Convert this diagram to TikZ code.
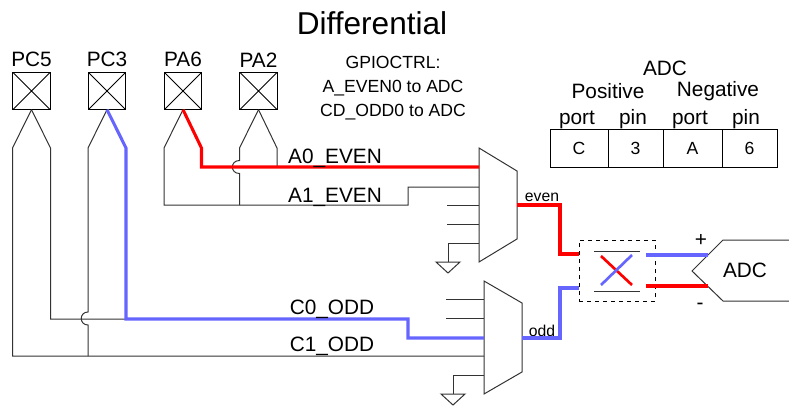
\documentclass[tikz,border=0pt]{standalone}
\usepackage{fontspec}
\setmainfont{Liberation Sans}
\usepackage{tikz}
\usetikzlibrary{positioning}
\definecolor{wred}{HTML}{FF0000}
\definecolor{wblue}{HTML}{6666FF}
\definecolor{wgray}{HTML}{333333}
\tikzset{
  wire/.style={draw=wgray,line width=0.75pt,line join=miter},
  redwire/.style={draw=wred,line width=2.3pt},
  bluewire/.style={draw=wblue,line width=2.3pt},
  pinbox/.style={draw=black,line width=0.75pt,minimum size=28pt,inner sep=0pt,outer sep=0pt,
    path picture={\draw[line width=0.6pt] (path picture bounding box.north west) -- (path picture bounding box.south east)
      (path picture bounding box.north east) -- (path picture bounding box.south west);}},
  pinlabel/.style={font=\fontsize{15.6}{17}\selectfont,inner sep=0pt},
  siglabel/.style={font=\fontsize{15.6}{17}\selectfont,inner sep=0pt},
  smalllabel/.style={font=\fontsize{11.8}{13}\selectfont,inner sep=0pt},
  tablecell/.style={draw=black,line width=0.75pt,minimum height=28.5pt,inner sep=0pt,outer sep=0pt,
    font=\fontsize{13.2}{15}\selectfont},
}
\begin{document}
\begin{tikzpicture}[x=0.75pt,y=-0.75pt]
  \useasboundingbox (0,0) rectangle (789,407);
  \node[font=\fontsize{23.7}{26}\selectfont,inner sep=0pt] (title) at (372,23) {Differential};
  % ---- pins ----
  \node[pinbox] (pc5) at (31.5,91) {};
  \node[pinbox] (pc3) at (107,91) {};
  \node[pinbox] (pa6) at (183,91) {};
  \node[pinbox] (pa2) at (258.5,91) {};
  \node[pinlabel,above=3.8pt of pc5] (pc5lab) {PC5};
  \node[pinlabel,above=3.8pt of pc3] (pc3lab) {PC3};
  \node[pinlabel,above=3.8pt of pa6] (pa6lab) {PA6};
  \node[pinlabel,above=3.8pt of pa2] (pa2lab) {PA2};
  \node[font=\fontsize{13.2}{18}\selectfont,align=center,inner sep=0pt] (gpio) at (393,88)
        {GPIOCTRL:\\A\_EVEN0 to ADC\\CD\_ODD0 to ADC};
  % ---- ADC table ----
  \node[siglabel] (adchead) at (665,68) {ADC};
  \node[siglabel] (poshead) at (608,91) {Positive};
  \node[siglabel] (neghead) at (718,91) {Negative};
  \node[tablecell,minimum width=43.5pt] (cellc) at (579,148) {C};
  \node[tablecell,minimum width=41.25pt] (cell3) at (635.5,148) {3};
  \node[tablecell,minimum width=44.25pt] (cella) at (692.5,148) {A};
  \node[tablecell,minimum width=41.25pt] (cell6) at (749.5,148) {6};
  \node[siglabel,anchor=base] (port1) at (577,124) {port};
  \node[siglabel,anchor=base] (pin1) at (633,124) {pin};
  \node[siglabel,anchor=base] (port2) at (690,124) {port};
  \node[siglabel,anchor=base] (pin2) at (746,124) {pin};
  % ---- even mux ----
  \draw[wire] (479,148) -- (517,171) -- (517,239) -- (479,262) -- cycle;
  \coordinate (ein0) at (479,167);
  \coordinate (ein1) at (479,187);
  \coordinate (ein2) at (479,205);
  \coordinate (ein3) at (479,224);
  \coordinate (ein4) at (479,243);
  \coordinate (eout) at (517,205);
  \coordinate (estub2) at (447,205);
  \coordinate (estub3) at (447,224);
  \coordinate (egnd) at (448,262);
  \draw[wire] (estub2) -- (ein2);
  \draw[wire] (estub3) -- (ein3);
  \draw[wire] (ein4) -| (egnd);
  \draw[wire] (436,262) -- (460,262) -- (448,273) -- cycle;
  % ---- odd mux ----
  \draw[wire] (484,281) -- (522,303) -- (522,372) -- (484,394) -- cycle;
  \coordinate (oin0) at (484,299);
  \coordinate (oin1) at (484,318);
  \coordinate (oin2) at (484,338);
  \coordinate (oin3) at (484,356);
  \coordinate (oin4) at (484,375);
  \coordinate (oout) at (522,338);
  \coordinate (ostub0) at (446,299);
  \coordinate (ostub1) at (446,318);
  \coordinate (ognd) at (453,394);
  \draw[wire] (ostub0) -- (oin0);
  \draw[wire] (ostub1) -- (oin1);
  \draw[wire] (oin4) -| (ognd);
  \draw[wire] (441,394) -- (465,394) -- (453,405) -- cycle;
  \node[smalllabel] (evenlab) at (542,197) {even};
  \node[smalllabel] (oddlab) at (542,331) {odd};
  % ---- thin pin wires ----
  \draw[wire] (pc5.south) -- (12.5,148) -- (12.5,356) -- (oin3);
  \draw[wire] (pc5.south) -- (50.5,148) -- (50.5,319) -- (126,319);
  \draw[wire] (pc3.south) -- (88,148) -- (88,312) .. controls (79,312) and (79,325) .. (88,325) -- (88,356);
  \draw[wire] (pa6.south) -- (164,148) -- (164,205) -- (408,205) -- (408,187) -- (ein1);
  \draw[wire] (pa2.south) -- (239.5,148) -- (239.5,160.5) .. controls (230,160.5) and (230,173.5) .. (239.5,173.5) -- (239.5,205);
  \draw[wire] (pa2.south) -- (277,148) -- (277,167);
  % ---- coloured routes ----
  \draw[redwire] (pa6.south) -- (201.5,148) -- (201.5,167) -- (ein0);
  \draw[bluewire] (pc3.south) -- (126,148) -- (126,319) -- (408,319) -- (408,338) -- (oin2);
  \draw[redwire] (eout) -- (560,205) -- (560,254) -- (579,254);
  \draw[bluewire] (oout) -- (560,338) -- (560,288) -- (579,288);
  \node[siglabel] (a0lab) at (335,158) {A0\_EVEN};
  \node[siglabel] (a1lab) at (335,197) {A1\_EVEN};
  \node[siglabel] (c0lab) at (332,309) {C0\_ODD};
  \node[siglabel] (c1lab) at (332,346) {C1\_ODD};
  % ---- chopper ----
  \node[draw=black,dashed,line width=0.75pt,minimum width=57pt,minimum height=45.75pt,inner sep=0pt,outer sep=0pt]
        (chop) at (617,270.5) {};
  \draw[wire] (594,251) -- (640,251);
  \draw[wire] (594,291) -- (640,291);
  \draw[redwire,line width=2pt] (601,256) -- (632,285);
  \draw[bluewire,line width=2pt] (601,285) -- (632,255);
  % ---- ADC input ----
  \draw[wire] (789,240) -- (723,240) -- (692,271) -- (723,301) -- (789,301);
  \node[siglabel] (adclab) at (745,270) {ADC};
  \node[siglabel] (plus) at (701,240) {+};
  \node[siglabel] (minus) at (700,306) {-};
  \coordinate (adcp) at (708,255);
  \coordinate (adcn) at (708,286);
  \draw[bluewire] (646,255) -- (adcp);
  \draw[redwire] (646,286) -- (adcn);
\end{tikzpicture}
\end{document}
